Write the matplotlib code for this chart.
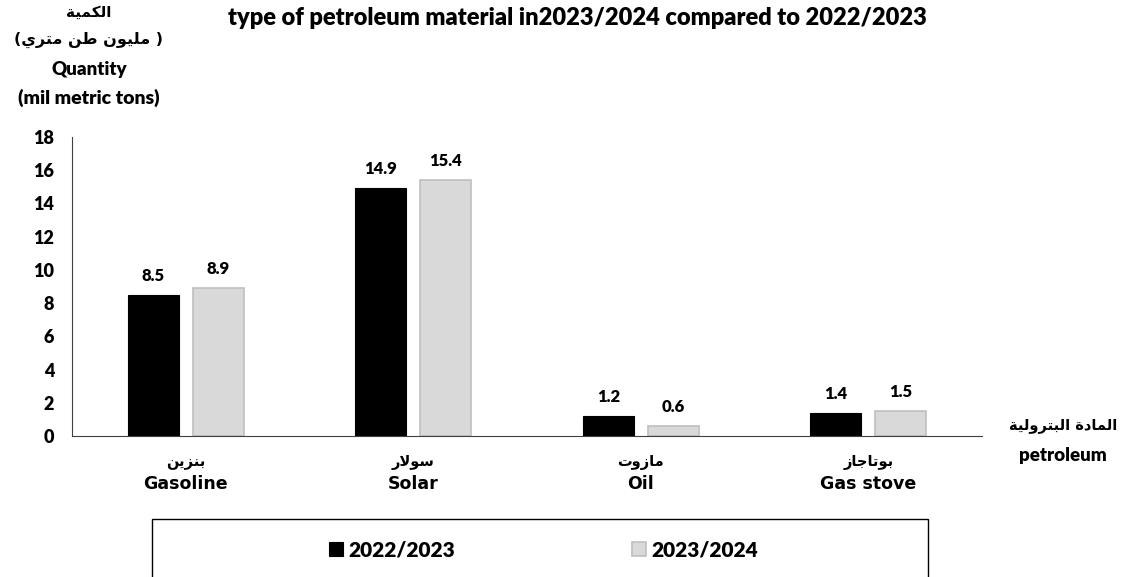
import numpy as np
import matplotlib
matplotlib.use('Agg')
import matplotlib.pyplot as plt
from matplotlib.patches import Rectangle

# Data
categories_ar = ['بنزين', 'سولار', 'مازوت', 'بوتاجاز']
categories_en = ['Gasoline', 'Solar', 'Oil', 'Gas stove']
series_names = ['2022/2023', '2023/2024']
values_2022 = [8.5, 14.9, 1.2, 1.4]
values_2024 = [8.9, 15.4, 0.6, 1.5]
y_ticks = [0, 2, 4, 6, 8, 10, 12, 14, 16, 18]

# Minimal Arabic shaping (presentation forms + visual order)
FORMS = {
    'ا': (0xFE8D, 0xFE8E), 'ب': (0xFE8F, 0xFE90, 0xFE91, 0xFE92),
    'ة': (0xFE93, 0xFE94), 'ت': (0xFE95, 0xFE96, 0xFE97, 0xFE98),
    'ج': (0xFE9D, 0xFE9E, 0xFE9F, 0xFEA0), 'د': (0xFEA9, 0xFEAA),
    'ر': (0xFEAD, 0xFEAE), 'ز': (0xFEAF, 0xFEB0),
    'س': (0xFEB1, 0xFEB2, 0xFEB3, 0xFEB4), 'ط': (0xFEC1, 0xFEC2, 0xFEC3, 0xFEC4),
    'ك': (0xFED9, 0xFEDA, 0xFEDB, 0xFEDC), 'ل': (0xFEDD, 0xFEDE, 0xFEDF, 0xFEE0),
    'م': (0xFEE1, 0xFEE2, 0xFEE3, 0xFEE4), 'ن': (0xFEE5, 0xFEE6, 0xFEE7, 0xFEE8),
    'و': (0xFEED, 0xFEEE), 'ي': (0xFEF1, 0xFEF2, 0xFEF3, 0xFEF4),
}


def shape_ar(text):
    chars = list(text)
    out = []
    i = 0
    while i < len(chars):
        c = chars[i]
        if c not in FORMS:
            out.append(c)
            i += 1
            continue
        prev = chars[i - 1] if i > 0 else ''
        joins_prev = prev in FORMS and len(FORMS[prev]) == 4
        if c == 'ل' and i + 1 < len(chars) and chars[i + 1] == 'ا':
            out.append(chr(0xFEFC if joins_prev else 0xFEFB))
            i += 2
            continue
        nxt = chars[i + 1] if i + 1 < len(chars) else ''
        f = FORMS[c]
        joins_next = len(f) == 4 and nxt in FORMS
        if joins_prev and joins_next:
            g = f[3]
        elif joins_prev:
            g = f[1]
        elif joins_next:
            g = f[2]
        else:
            g = f[0]
        out.append(chr(g))
        i += 1
    return ''.join(reversed(out))


CAL = ['Lato', 'DejaVu Sans']          # stands in for Calibri
ARI = ['DejaVu Sans']                   # wide Arial-like + Arabic glyphs
BW = 'heavy'
plt.rcParams['font.family'] = CAL

fig = plt.figure(figsize=(11.25, 5.77), dpi=100)
ax = fig.add_axes([0.064, 0.2444, 0.809, 0.5182])

x = np.arange(len(categories_en))
w = 0.224
off = 0.143
b1 = ax.bar(x - off, values_2022, w, color='black', edgecolor='black', linewidth=0.8, label=series_names[0])
b2 = ax.bar(x + off, values_2024, w, color='#d9d9d9', edgecolor='#bfbfbf', linewidth=1.2, label=series_names[1])

for bars, vals in [(b1, values_2022), (b2, values_2024)]:
    for r, v in zip(bars, vals):
        ax.annotate(f'{v:.1f}', (r.get_x() + r.get_width() / 2, v), xytext=(0, 8),
                    textcoords='offset points', ha='center', va='bottom',
                    fontsize=12, fontweight=BW)

ax.set_xlim(-0.5, 3.5)
ax.set_ylim(0, 18)
ax.set_yticks(y_ticks)
ax.set_yticklabels([str(t) for t in y_ticks], fontsize=13, fontweight=BW)
ax.tick_params(axis='y', length=0, pad=13)
ax.set_xticks([])
for s in ['top', 'right']:
    ax.spines[s].set_visible(False)
ax.spines['left'].set_color('#404040')
ax.spines['bottom'].set_color('#404040')

# category labels
for xi, ar, en in zip(x, categories_ar, categories_en):
    ax.text(xi, -1.6, shape_ar(ar), ha='center', va='center', fontsize=10.5,
            fontweight='bold', family=ARI)
    ax.text(xi, -2.9, en, ha='center', va='center', fontsize=12.5,
            fontweight='bold', family=ARI)

# title
fig.text(0.513, 0.968, 'type of petroleum material in2023/2024 compared to 2022/2023',
         ha='center', va='center', fontsize=17, fontweight=BW)

# y-axis label (top-left)
fig.text(0.079, 0.978, shape_ar('الكمية'), ha='center', va='center', fontsize=11, fontweight='bold', family=ARI)
fig.text(0.079, 0.931, '(' + shape_ar('مليون طن متري') + ' )', ha='center', va='center', fontsize=11.5, fontweight='bold', family=ARI)
fig.text(0.079, 0.879, 'Quantity', ha='center', va='center', fontsize=13.5, fontweight=BW)
fig.text(0.079, 0.830, '(mil metric tons)', ha='center', va='center', fontsize=14, fontweight=BW)

# x-axis label (right)
fig.text(0.945, 0.263, shape_ar('المادة البترولية'), ha='center', va='center', fontsize=10.5, fontweight='bold', family=ARI)
fig.text(0.945, 0.211, 'petroleum', ha='center', va='center', fontsize=13.5, fontweight=BW)

# legend box
fig.patches.append(Rectangle((0.1351, -0.05), 0.690, 0.1505, transform=fig.transFigure,
                             fill=False, edgecolor='black', linewidth=1.0))
leg = fig.legend(handles=[b1, b2], labels=series_names, loc='center',
                 bbox_to_anchor=(0.483, 0.047), ncol=2, frameon=False,
                 prop={'weight': BW, 'size': 15},
                 handlelength=0.67, handleheight=0.67, handletextpad=0.24,
                 columnspacing=8.5)

fig.savefig('out.png', dpi=100)
